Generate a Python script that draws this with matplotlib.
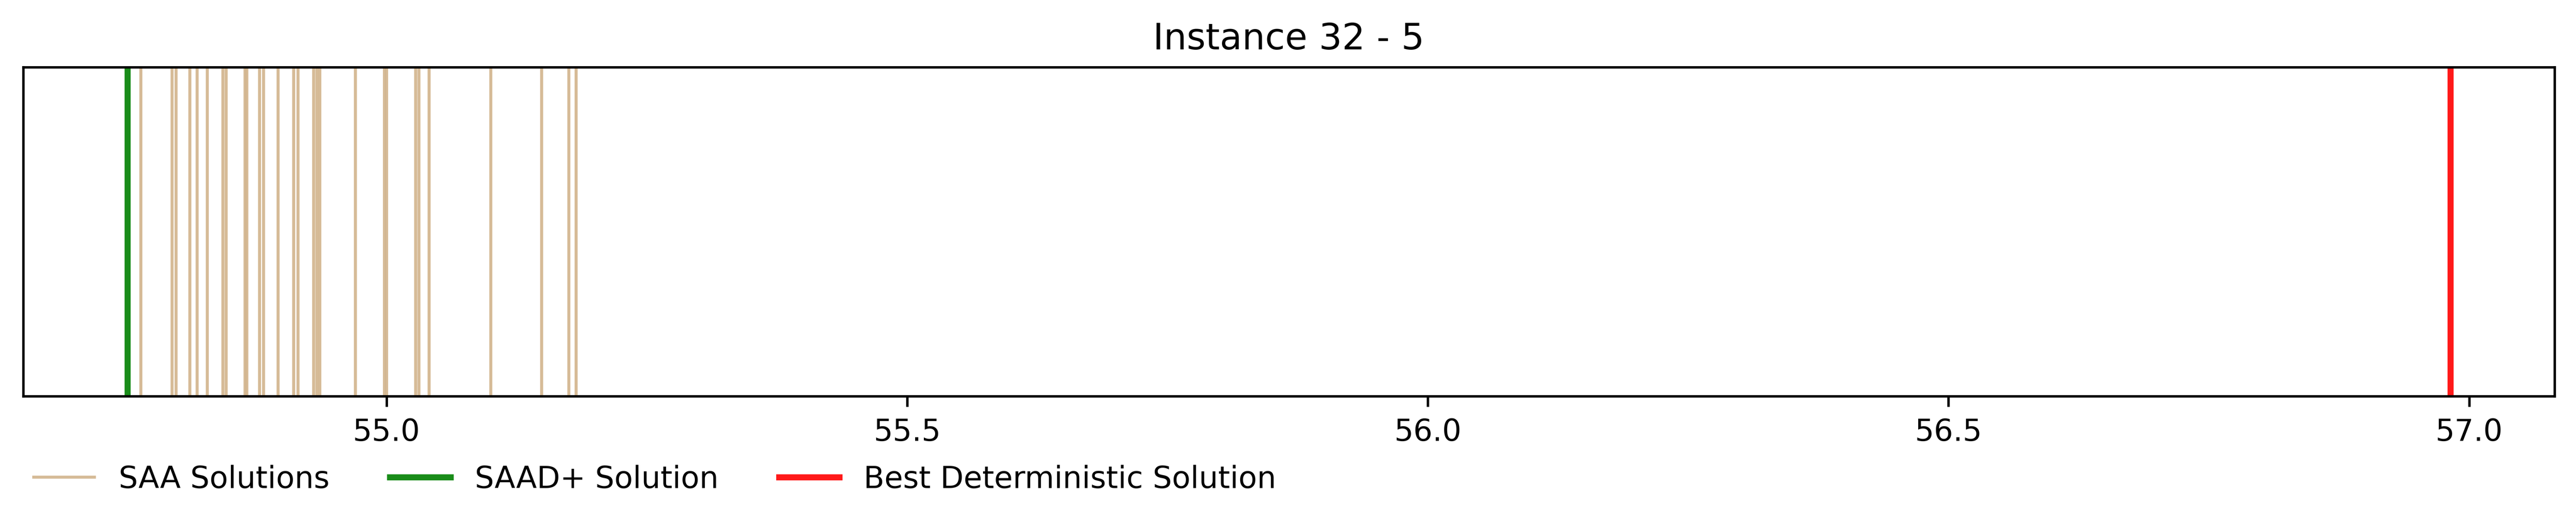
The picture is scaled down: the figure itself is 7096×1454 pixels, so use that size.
import matplotlib
matplotlib.use("Agg")
import matplotlib.pyplot as plt

# objective values
saa_solutions = [54.764, 54.794, 54.798, 54.811, 54.818, 54.828, 54.843, 54.846,
                 54.864, 54.866, 54.878, 54.882, 54.896, 54.911, 54.915, 54.930,
                 54.933, 54.936, 54.970, 54.998, 55.000, 55.028, 55.031, 55.041,
                 55.100, 55.149, 55.175, 55.182]
saad_plus_solution = 54.751
best_deterministic = 56.982
x_range = [54.651, 57.082]
title = "Instance 32 - 5"

fig_w, fig_h = 13, 3
fig = plt.figure(figsize=(fig_w, fig_h))
# axes box sized in inches so the tight crop lands near 7095x1450 at 600 dpi
ax = fig.add_axes([0.5 / fig_w, 0.8 / fig_h, 11.622 / fig_w, 1.51 / fig_h])

for i, v in enumerate(saa_solutions):
    ax.axvline(v, color='tan', alpha=0.9, linewidth=1,
               label='SAA Solutions' if i == 0 else None)
ax.axvline(saad_plus_solution, color='green', alpha=0.9, linewidth=2, label='SAAD+ Solution')
ax.axvline(best_deterministic, color='red', alpha=0.9, linewidth=2, label='Best Deterministic Solution')

ax.set_xlim(x_range)
ax.set_yticks([])
ax.set_title(title, fontsize=12)
ax.legend(loc='upper left', bbox_to_anchor=(-0.0065, -0.125), ncol=3, frameon=False, fontsize=10)

plt.savefig("out.png", dpi=600, bbox_inches='tight')
